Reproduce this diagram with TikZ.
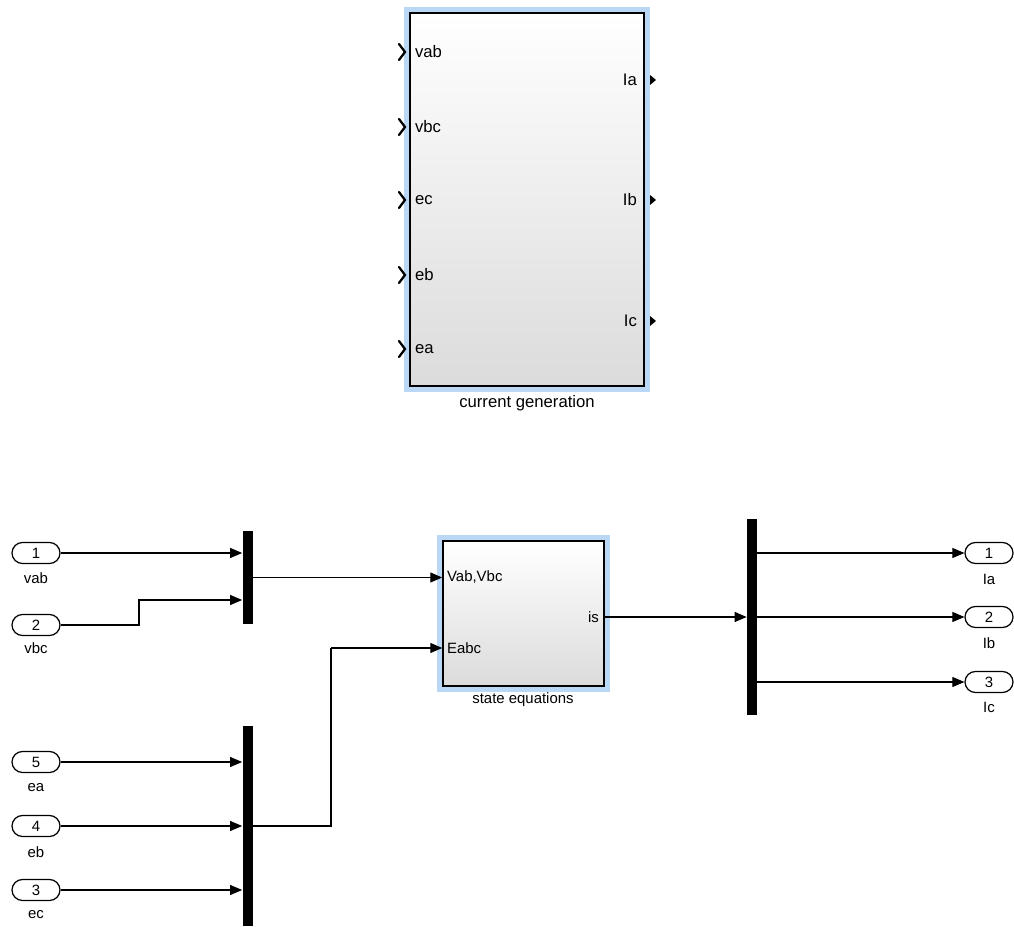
\documentclass[tikz,border=0pt]{standalone}
\usepackage{fontspec}
\setmainfont{Liberation Sans}
\usepackage{tikz}
\usetikzlibrary{arrows.meta,positioning,calc}
\definecolor{halo}{RGB}{186,216,246}
\tikzset{
  blk/.style={draw, line width=0.3mm, inner sep=0pt, top color=white, bottom color=black!14,
    preaction={draw=halo, line width=2.4mm}},
  mux/.style={fill=black, inner sep=0pt, minimum width=2mm},
  inp/.style={draw, line width=0.25mm, rounded corners=2.1mm, minimum width=9.6mm, minimum height=4.2mm,
    inner sep=0pt, fill=white, font=\fontsize{8.5}{10}\selectfont},
  plbl/.style={inner sep=1pt, font=\fontsize{9.5}{11}\selectfont},
  sub/.style={inner sep=1pt, font=\fontsize{8.5}{10}\selectfont},
  arr/.style={-{Triangle[length=2.4mm, width=2mm]}, line width=0.22mm},
  chev/.style={line width=0.45mm, line cap=round},
}

\begin{document}
\begin{tikzpicture}[x=0.2mm, y=-0.2mm]
\useasboundingbox (0,0) rectangle (1014,927);
% upper subsystem
\node[blk, minimum width=46.8mm, minimum height=74.6mm] (cg) at (527,199.5) {};
\node[plbl] (cglbl) at (527,403) {current generation};
\node[plbl, anchor=west] (vab) at (413,52) {vab};
\node[plbl, anchor=west] (vbc) at (413,127) {vbc};
\node[plbl, anchor=west] (ec) at (413,200) {ec};
\node[plbl, anchor=west] (eb) at (413,275) {eb};
\node[plbl, anchor=west] (ea) at (413,349) {ea};
\node[plbl, anchor=east] (ia) at (639,80) {Ia};
\node[plbl, anchor=east] (ib) at (639,200) {Ib};
\node[plbl, anchor=east] (ic) at (639,321) {Ic};
\foreach \y in {52,127,200,275,349}
  \draw[chev] (399,\y-8) -- (405,\y) -- (399,\y+8);
\foreach \y in {80,200,321}
  \fill (650,\y-5) -- (656,\y) -- (650,\y+5) -- cycle;

% lower model
\node[inp] (in1) at (36,553) {1};
\node[sub] (in1lbl) at (36,578) {vab};
\node[inp] (in2) at (36,625) {2};
\node[sub] (in2lbl) at (36,648) {vbc};
\node[inp] (in5) at (36,762) {5};
\node[sub] (in5lbl) at (36,788) {ea};
\node[inp] (in4) at (36,826) {4};
\node[sub] (in4lbl) at (36,852) {eb};
\node[inp] (in3) at (36,890) {3};
\node[sub] (in3lbl) at (36,915) {ec};

\node[mux, minimum height=18.6mm] (mux1) at (247.5,577.5) {};
\node[mux, minimum height=40mm] (mux2) at (247.5,826) {};
\node[mux, minimum height=39.2mm] (dmx) at (752,617) {};

\node[blk, minimum width=32.2mm, minimum height=29mm] (se) at (523.5,613.5) {};
\node[sub] (selbl) at (523,700) {state equations};
\node[sub, anchor=west] (vv) at (445,577) {Vab,Vbc};
\node[sub, anchor=west] (eabc) at (445,648) {Eabc};
\node[sub, anchor=east] (is) at (601,617) {is};

\node[inp] (out1) at (989,553) {1};
\node[sub] (out1lbl) at (989,579) {Ia};
\node[inp] (out2) at (989,617) {2};
\node[sub] (out2lbl) at (989,643) {Ib};
\node[inp] (out3) at (989,682) {3};
\node[sub] (out3lbl) at (989,707) {Ic};

\coordinate (bend1) at (139,600);
\coordinate (bend2) at (331,648);
\coordinate (sout) at (604,617);

\draw[arr] (in1.east) -- (in1.east -| mux1.west);
\draw[arr] (in2.east) -| (bend1) -- (bend1 -| mux1.west);
\draw[arr] (in5.east) -- (in5.east -| mux2.west);
\draw[arr] (in4.east) -- (in4.east -| mux2.west);
\draw[arr] (in3.east) -- (in3.east -| mux2.west);
\draw[arr] (mux1.east) -- (mux1.east -| se.west);
\draw[line width=0.22mm] (mux2.east) -| (bend2);
\draw[arr] (bend2) -- (bend2 -| se.west);
\draw[arr] (sout) -- (sout -| dmx.west);
\draw[arr] (out1.west -| dmx.east) -- (out1.west);
\draw[arr] (out2.west -| dmx.east) -- (out2.west);
\draw[arr] (out3.west -| dmx.east) -- (out3.west);
\end{tikzpicture}
\end{document}
